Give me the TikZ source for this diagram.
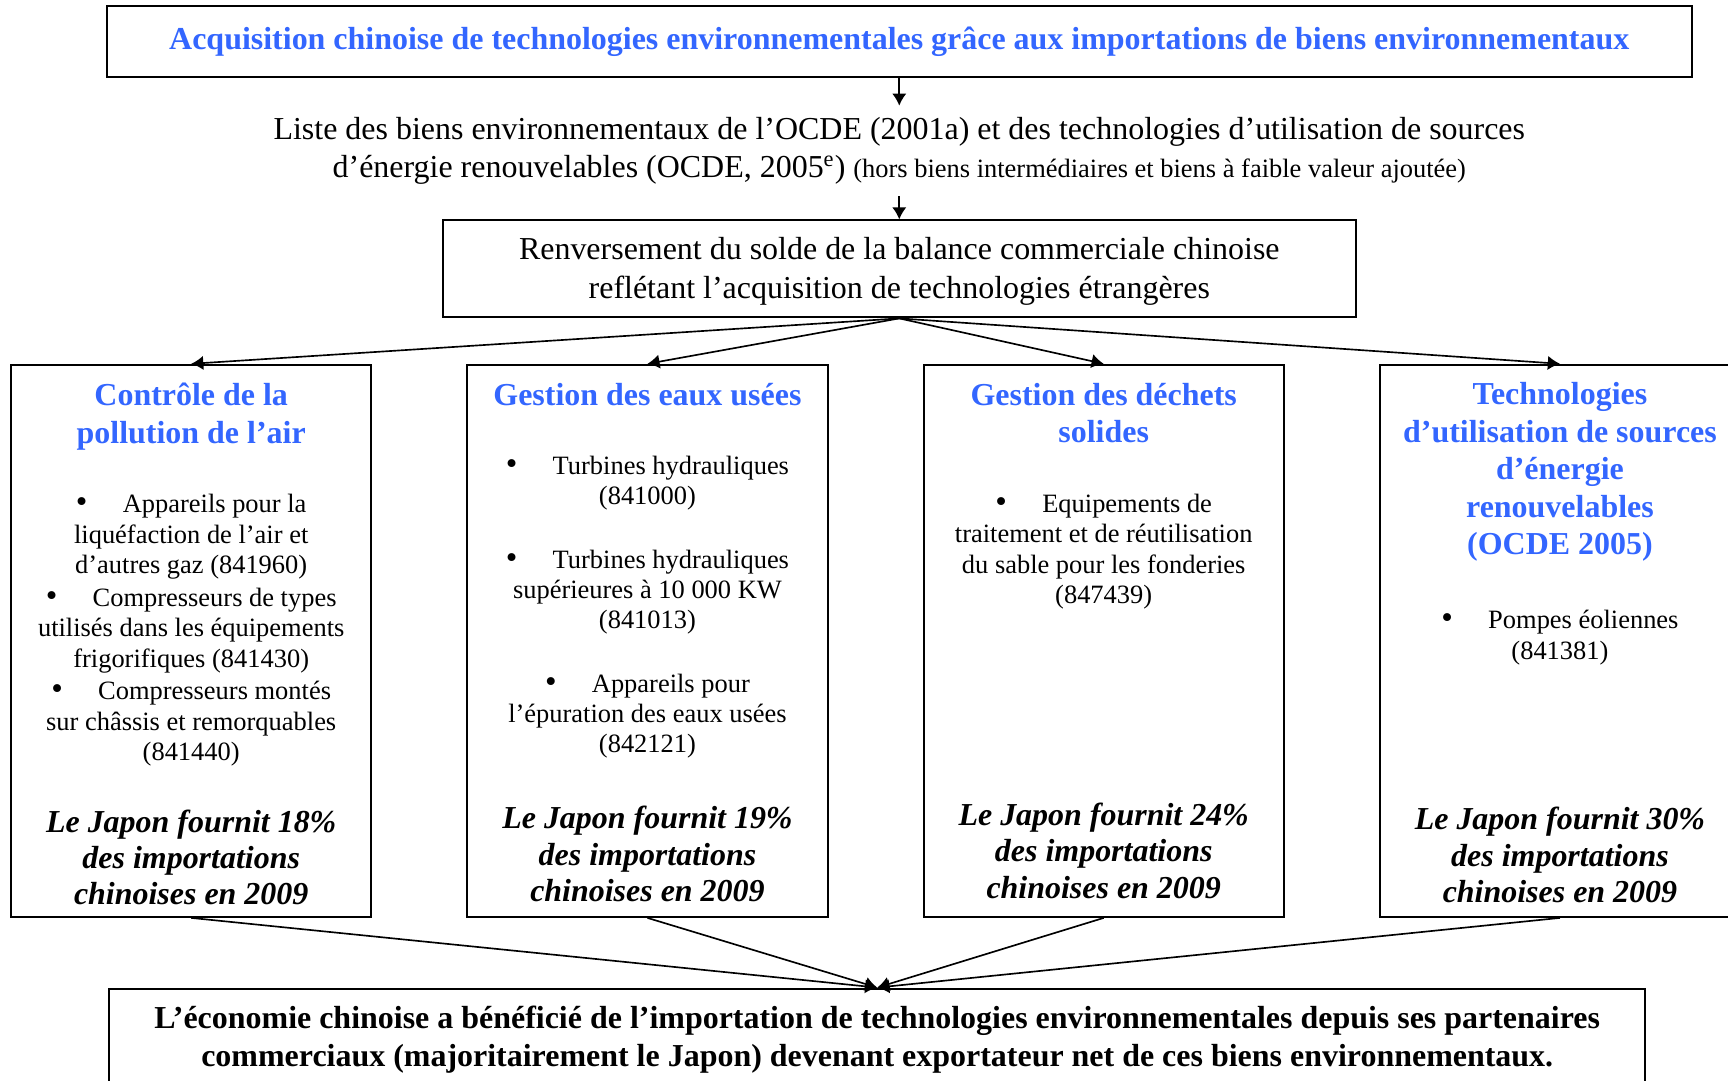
\documentclass[tikz,border=0pt]{standalone}
\usepackage{fontspec}
\setmainfont{Liberation Serif}
\usepackage{xcolor}
\usetikzlibrary{arrows.meta}
\definecolor{bleu}{RGB}{51,102,255}

\tikzset{
  cadre/.style={draw, line width=0.9pt, inner sep=0pt},
  titre/.style={font=\fontsize{14.5}{17}\selectfont\bfseries, text=bleu, align=center},
  biens/.style={font=\fontsize{12}{13.75}\selectfont, align=center},
  japon/.style={font=\fontsize{14.5}{16.5}\selectfont\bfseries\itshape, align=center},
  fleche/.style={-{Latex[length=5.5pt,width=6.5pt]}, line width=0.75pt}
}
\newcommand{\puce}{{\fontsize{15}{13.75}\selectfont\textbullet}\hspace{16pt}}

\begin{document}
\begin{tikzpicture}[x=0.5pt, y=-0.5pt]
  \useasboundingbox (0,0) rectangle (1568,980);
  % en-tete
  \node[cadre, minimum width=719pt, minimum height=32.5pt, text=bleu,
        font=\fontsize{14.5}{17}\selectfont\bfseries] (acq) at (816,37.5)
    {Acquisition chinoise de technologies environnementales grâce aux importations de biens environnementaux};
  \node[align=center, inner sep=5pt, font=\fontsize{14.5}{17.5}\selectfont] (liste) at (816,137)
    {Liste des biens environnementaux de l’OCDE (2001a) et des technologies d’utilisation de sources\\
     d’énergie renouvelables (OCDE, 2005\textsuperscript{e}) {\fontsize{12}{14}\selectfont(hors biens intermédiaires et biens à faible valeur ajoutée)}};
  \node[cadre, minimum width=414pt, minimum height=44pt, align=center,
        font=\fontsize{14.5}{17.5}\selectfont] (solde) at (816,244)
    {\strut Renversement du solde de la balance commerciale chinoise\\ reflétant l’acquisition de technologies étrangères};

  % les quatre secteurs
  \node[cadre, minimum width=163.5pt, minimum height=250.5pt] (air) at (173.5,581.5) {};
  \node[cadre, minimum width=163.5pt, minimum height=250.5pt] (eaux) at (587.5,581.5) {};
  \node[cadre, minimum width=163.5pt, minimum height=250.5pt] (dechets) at (1001.5,581.5) {};
  \node[cadre, minimum width=163.5pt, minimum height=250.5pt] (energie) at (1415.5,581.5) {};

  \node[titre] (t-air) at (173.5,378) {Contrôle de la\\ pollution de l’air};
  \node[biens] (b-air) at (173.5,572)
    {\puce Appareils pour la\\ liquéfaction de l’air et\\ d’autres gaz (841960)\\[1.2pt]
     \puce Compresseurs de types\\ utilisés dans les équipements\\ frigorifiques (841430)\\[1.2pt]
     \puce Compresseurs montés\\ sur châssis et remorquables\\ (841440)};
  \node[japon] (j-air) at (173.5,778) {Le Japon fournit 18\%\\ des importations\\ chinoises en 2009};

  \node[titre] (t-eaux) at (587.5,358) {Gestion des eaux usées};
  \node[biens] (b-eaux) at (587.5,551)
    {\puce Turbines hydrauliques\\ (841000)\\[15pt]
     \puce Turbines hydrauliques\\ supérieures à 10 000 KW\\ (841013)\\[15pt]
     \puce Appareils pour\\ l’épuration des eaux usées\\ (842121)};
  \node[japon] (j-eaux) at (587.5,775) {Le Japon fournit 19\%\\ des importations\\ chinoises en 2009};

  \node[titre] (t-dechets) at (1001.5,375) {Gestion des déchets\\ solides};
  \node[biens] (b-dechets) at (1001.5,500.5)
    {\puce Equipements de\\ traitement et de réutilisation\\ du sable pour les fonderies\\ (847439)};
  \node[japon] (j-dechets) at (1001.5,772) {Le Japon fournit 24\%\\ des importations\\ chinoises en 2009};

  \node[titre] (t-energie) at (1415.5,428.5)
    {Technologies\\ d’utilisation de sources\\ d’énergie\\ renouvelables\\ (OCDE 2005)};
  \node[biens] (b-energie) at (1415.5,578.5) {\puce Pompes éoliennes\\ (841381)};
  \node[japon] (j-energie) at (1415.5,776) {Le Japon fournit 30\%\\ des importations\\ chinoises en 2009};

  % conclusion
  \node[cadre, minimum width=697pt, minimum height=46.5pt, align=center,
        font=\fontsize{14.5}{17}\selectfont\bfseries] (bilan) at (796,943.5)
    {L’économie chinoise a bénéficié de l’importation de technologies environnementales depuis ses partenaires\\
     commerciaux (majoritairement le Japon) devenant exportateur net de ces biens environnementaux.};

  % fleches
  \draw[fleche] (acq) -- (liste);
  \draw[fleche] (liste) -- (solde);
  \foreach \s in {air,eaux,dechets,energie}{
    \draw[fleche] (solde.south) -- (\s.north);
    \draw[fleche] (\s.south) -- (bilan.north);
  }
\end{tikzpicture}
\end{document}
